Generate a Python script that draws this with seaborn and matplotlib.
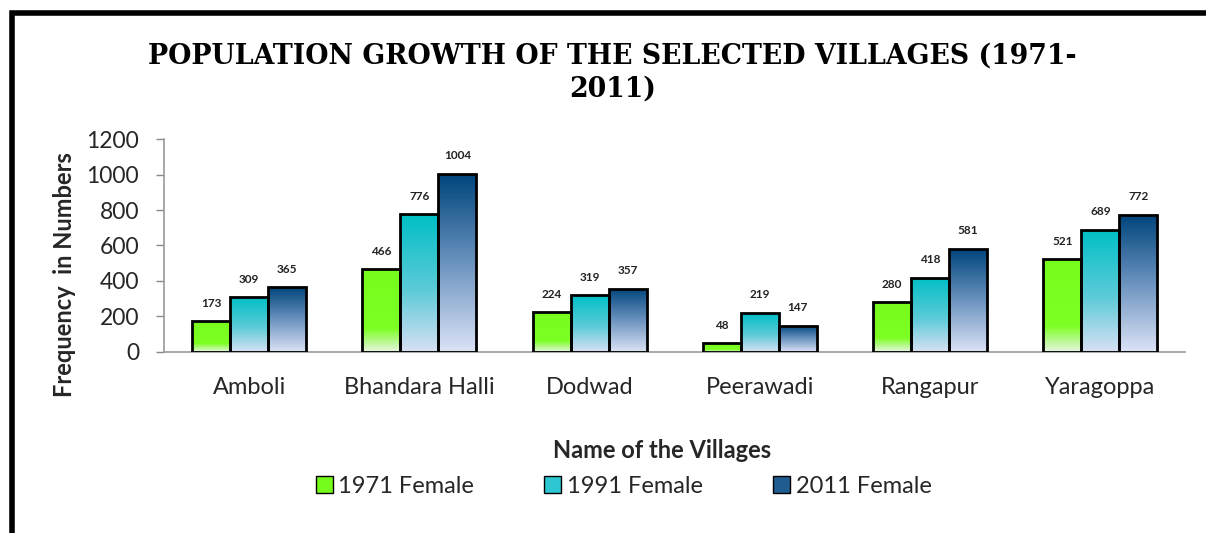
import numpy as np
import pandas as pd
import matplotlib
matplotlib.use('Agg')
import matplotlib.pyplot as plt
import seaborn as sns
from matplotlib.colors import LinearSegmentedColormap
from matplotlib.patches import Patch, Rectangle

villages = ['Amboli', 'Bhandara Halli', 'Dodwad', 'Peerawadi', 'Rangapur', 'Yaragoppa']
series = ['1971 Female', '1991 Female', '2011 Female']
female_1971 = [173, 466, 224, 48, 280, 521]
female_1991 = [309, 776, 319, 219, 418, 689]
female_2011 = [365, 1004, 357, 147, 581, 772]

# gradient fills (bottom -> top) for each series
gradients = {
    '1971 Female': [(0.0, '#e8f5e4'), (0.28, '#7dff24'), (1.0, '#76fc1c')],
    '1991 Female': [(0.0, '#d8e0f4'), (0.45, '#5ccbd8'), (1.0, '#00bfc6')],
    '2011 Female': [(0.0, '#dce3f6'), (0.5, '#6b93bf'), (1.0, '#00457c')],
}
legend_colors = ['#76fc1c', '#2ec6d0', '#1f5d90']

df = pd.DataFrame({
    'village': villages * 3,
    'series': [s for s in series for _ in villages],
    'value': female_1971 + female_1991 + female_2011,
})

sns.set_style('white')
plt.rcParams['font.family'] = ['Lato', 'DejaVu Sans']

fig = plt.figure(figsize=(12.06, 5.33), dpi=100)
ax = fig.add_axes([0.136, 0.34, 0.847, 0.399])

sns.barplot(data=df, x='village', y='value', hue='series', order=villages,
            hue_order=series, width=0.67, edgecolor='black', linewidth=2,
            ax=ax, legend=False, saturation=1)

grad = np.linspace(0, 1, 256).reshape(-1, 1)
for container, name in zip(ax.containers, series):
    cmap = LinearSegmentedColormap.from_list(name, gradients[name])
    for bar in container:
        x, w, h = bar.get_x(), bar.get_width(), bar.get_height()
        bar.set_facecolor('none')
        bar.set_zorder(3)
        im = ax.imshow(grad, cmap=cmap, origin='lower', aspect='auto',
                       extent=[x, x + w, 0, h], zorder=2)
        im.set_clip_path(bar)
    ax.bar_label(container, fontsize=8.5, fontweight='bold', padding=9, color='#222222')

ax.set_xlim(-0.5, 5.5)
ax.set_ylim(0, 1200)
ax.set_yticks(range(0, 1201, 200))
ax.tick_params(axis='y', labelsize=16.5, length=6, width=1, color='#888888', left=True, pad=12)
ax.tick_params(axis='x', labelsize=17, length=0, pad=18)
for side in ['top', 'right']:
    ax.spines[side].set_visible(False)
ax.spines['left'].set_color('#999999')
ax.spines['bottom'].set_color('#999999')
ax.spines['left'].set_linewidth(1.2)
ax.spines['bottom'].set_linewidth(1.2)

ax.set_xlabel('')
ax.set_ylabel('')
fig.text(662 / 1206, 1 - 450 / 533, 'Name of the Villages', ha='center', va='center',
         fontsize=17, fontweight='bold')
fig.text(64 / 1206, 1 - 275 / 533, 'Frequency  in Numbers', ha='center', va='center',
         rotation=90, fontsize=17, fontweight='bold')

fig.text(0.508, 0.895, 'POPULATION GROWTH OF THE SELECTED VILLAGES (1971-',
         ha='center', va='center', fontsize=19.3, fontweight='bold', family='DejaVu Serif',
         color='black')
fig.text(0.508, 0.833, '2011)', ha='center', va='center', fontsize=19.3,
         fontweight='bold', family='DejaVu Serif', color='black')

handles = [Patch(facecolor=c, edgecolor='black', linewidth=1) for c in legend_colors]
fig.legend(handles, series, loc='center', bbox_to_anchor=(0.517, 0.088), ncol=3,
           frameon=False, fontsize=17, handlelength=0.72, handleheight=0.72,
           handletextpad=0.22, columnspacing=3.0)

# outer frame (cropped at right and bottom in the source image)
fig.patches.append(Rectangle((0.01, -0.05), 1.2, 0.92 + 0.05 + 0.055, transform=fig.transFigure,
                             fill=False, edgecolor='black', linewidth=4, zorder=10))

fig.savefig('out.png', dpi=100)
